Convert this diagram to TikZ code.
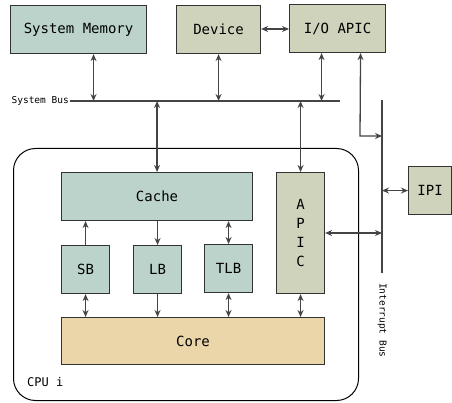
\documentclass[tikz,border=0pt]{standalone}
\usepackage{fontspec}
\setmonofont{DejaVu Sans Mono}
\usetikzlibrary{arrows.meta}
\definecolor{teal}{HTML}{BBD3CB}
\definecolor{olive}{HTML}{D0D3BC}
\definecolor{coreC}{HTML}{EBD6A9}
\definecolor{edge}{HTML}{333333}
\definecolor{arr}{HTML}{444444}
\tikzset{
  box/.style={draw=edge, line width=1.1pt, anchor=north west, inner sep=0pt, font=\ttfamily\fontsize{14}{16}\selectfont},
  tbox/.style={box, fill=teal},
  obox/.style={box, fill=olive},
  dar/.style={draw=arr, line width=1.3pt, {Stealth[length=7pt,width=6pt]}-{Stealth[length=7pt,width=6pt]}},
  sar/.style={draw=arr, line width=1.3pt, -{Stealth[length=7pt,width=6pt]}},
  busline/.style={draw=arr, line width=1.2pt},
  small/.style={font=\ttfamily\fontsize{9.5}{11}\selectfont, inner sep=1pt}
}
\begin{document}
\begin{tikzpicture}[x=1pt,y=-1pt]
\useasboundingbox (0,0) rectangle (452,403);
% CPU container
\node[draw=black, line width=1pt, rounded corners=22pt, anchor=north west, minimum width=345pt, minimum height=252pt, inner sep=0pt] (cpu) at (13,148) {};
\node[anchor=west, font=\ttfamily\fontsize{12}{14}\selectfont, inner sep=0pt] (cpulbl) at (27,382) {CPU i};
% top boxes
\node[tbox, minimum width=136pt, minimum height=48pt] (mem) at (10,5) {};
\node at (mem.center) {\ttfamily\fontsize{14}{16}\selectfont System Memory};
\node[obox, minimum width=84pt, minimum height=48pt] (dev) at (176,5) {};
\node at (dev.center) {\ttfamily\fontsize{14}{16}\selectfont Device};
\node[obox, minimum width=96pt, minimum height=48pt] (ioapic) at (289,4) {};
\node at (ioapic.center) {\ttfamily\fontsize{14}{16}\selectfont I/O APIC};
\node[obox, minimum width=43pt, minimum height=48pt] (ipi) at (408,166) {};
\node at (ipi.center) {\ttfamily\fontsize{14}{16}\selectfont IPI};
% inner boxes
\node[tbox, minimum width=191pt, minimum height=48pt] (cache) at (61,172) {};
\node at (cache.center) {\ttfamily\fontsize{14}{16}\selectfont Cache};
\node[obox, minimum width=48pt, minimum height=121pt] (apic) at (276,172) {};
\node[align=center, font=\ttfamily\fontsize{14}{19}\selectfont] at (apic.center) {A\\P\\I\\C};
\node[tbox, minimum width=48pt, minimum height=48pt] (sb) at (61,245) {};
\node at (sb.center) {\ttfamily\fontsize{14}{16}\selectfont SB};
\node[tbox, minimum width=48pt, minimum height=48pt] (lb) at (133,245) {};
\node at (lb.center) {\ttfamily\fontsize{14}{16}\selectfont LB};
\node[tbox, minimum width=48pt, minimum height=48pt] (tlb) at (204,244) {};
\node at (tlb.center) {\ttfamily\fontsize{14}{16}\selectfont TLB};
\node[box, fill=coreC, minimum width=263pt, minimum height=47pt] (core) at (61,317) {};
\node at (core.center) {\ttfamily\fontsize{14}{16}\selectfont Core};
% buses
\coordinate (busL) at (70,101);
\coordinate (busR) at (340,101);
\draw[busline] (busL) -- (busR);
\node[small, anchor=east] (buslbl) at (busL) {System Bus};
\coordinate (ibT) at (382,100);
\coordinate (ibB) at (382,273);
\draw[busline] (ibT) -- (ibB);
\node[small, rotate=-90, anchor=west] (iblbl) at (382,282) {Interrupt Bus};
% connectors top
\draw[dar] ([xshift=15pt]mem.south) -- ([xshift=15pt]mem.south |- busL);
\draw[dar] (dev.south) -- (dev.south |- busL);
\draw[dar] ([xshift=-16pt]ioapic.south) -- ([xshift=-16pt]ioapic.south |- busL);
\draw[dar] (dev.east |- 0,29) -- (ioapic.west |- 0,29);
\coordinate (bend) at (360,136);
\draw[dar] ([xshift=23pt]ioapic.south) -- (bend) -- (bend -| ibT);
\draw[dar] (cache.north |- busL) -- (cache.north);
\draw[dar] (apic.north |- busL) -- (apic.north);
\draw[dar] (ipi.west) -- (ipi.west -| ibT);
\draw[dar] (apic.east |- 0,233) -- (ibT |- 0,233);
% inner connectors
\draw[sar] (sb.north) -- (sb.north |- cache.south);
\draw[sar] (lb.north |- cache.south) -- (lb.north);
\draw[dar] (tlb.north |- cache.south) -- (tlb.north);
\draw[dar] (sb.south) -- (sb.south |- core.north);
\draw[sar] (lb.south) -- (lb.south |- core.north);
\draw[dar] (tlb.south) -- (tlb.south |- core.north);
\draw[dar] (apic.south) -- (apic.south |- core.north);
\end{tikzpicture}
\end{document}
